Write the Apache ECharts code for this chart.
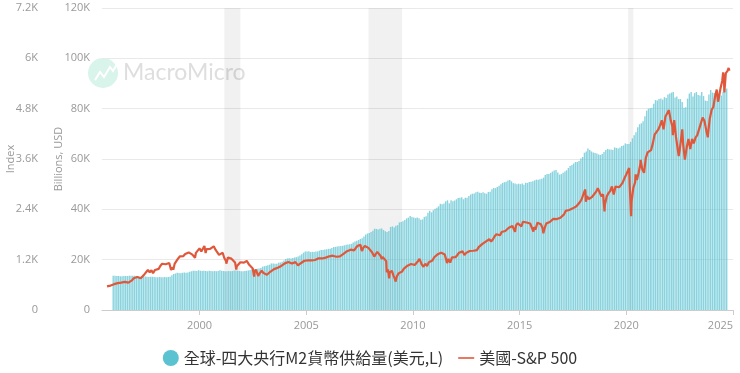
<!DOCTYPE html>
<html>
<head>
<meta charset="utf-8">
<script src="https://cdn.jsdelivr.net/npm/echarts@6/dist/echarts.min.js"></script>
<style>
html,body{margin:0;padding:0;background:#fff;}
#c{width:740px;height:373px;}
</style>
</head>
<body>
<div id="c"></div>
<script>
// ---- data ----
const seriesNames = ['全球-四大央行M2貨幣供給量(美元,L)', '美國-S&P 500'];
const yearTicks = [2000, 2005, 2010, 2015, 2020, 2025];
const m2Start = [1995, 12];
// billions USD (thousands), monthly
const m2Values = [
 13.6,
 13.6,13.5,13.5,13.4,13.4,13.5,13.5,13.5,13.6,13.6,13.6,13.6,
 13.5,13.3,13.2,13.2,13.3,13.3,13.2,13.1,13.2,13.2,13.1,13.0,
 13.0,13.1,13.0,13.0,13.1,13.0,13.1,13.2,13.8,14.3,14.5,14.8,
 14.7,14.6,14.8,14.9,14.8,14.9,15.2,15.4,15.6,15.6,15.5,15.8,
 15.6,15.5,15.6,15.5,15.4,15.6,15.5,15.4,15.5,15.4,15.5,15.8,
 15.6,15.5,15.4,15.4,15.5,15.4,15.5,15.7,15.7,15.6,15.5,15.4,
 15.4,15.5,15.6,15.7,15.9,16.2,16.2,16.3,16.4,16.5,16.7,17.2,
 17.4,17.6,17.8,18.0,18.5,18.5,18.4,18.4,18.8,18.9,19.2,19.7,
 20.3,20.5,20.6,20.5,20.7,20.9,21.0,21.3,21.7,22.2,22.8,23.2,
 23.2,23.3,23.0,23.1,23.0,23.2,23.3,23.6,23.8,23.8,24.0,24.1,
 24.3,24.3,24.6,25.0,25.1,25.2,25.3,25.4,25.5,25.7,25.9,26.0,
 26.1,26.3,26.8,27.2,27.5,27.8,28.2,28.5,29.2,30.0,30.4,30.6,
 31.0,31.5,32.3,32.2,32.0,32.3,32.4,31.8,31.3,31.0,31.4,33.0,
 33.2,32.8,33.5,33.7,34.8,35.0,35.3,35.8,36.4,36.7,37.4,37.0,
 36.8,36.5,36.8,36.5,35.9,36.0,37.0,37.3,38.6,39.4,38.8,39.6,
 40.2,40.6,41.2,42.2,42.0,42.3,43.2,43.6,42.4,43.6,43.2,43.5,
 44.0,44.5,44.6,44.8,44.0,44.6,44.6,45.3,45.9,46.2,46.3,46.8,
 47.0,46.6,46.5,46.8,46.4,46.2,46.9,47.0,48.0,48.5,48.4,48.9,
 49.4,50.0,50.5,50.8,51.0,51.5,51.7,51.1,50.4,50.3,50.0,50.2,
 50.0,50.3,49.8,50.6,50.5,50.9,51.0,51.2,51.5,51.8,51.8,52.0,
 52.2,52.6,53.6,54.0,54.0,54.5,55.0,55.4,55.6,54.6,53.8,54.0,
 54.5,55.0,55.5,56.4,57.2,57.6,58.2,58.8,58.8,59.2,60.2,60.8,
 62.5,63.0,64.2,63.6,63.0,62.6,62.4,62.2,61.8,61.6,62.0,62.8,
 63.6,64.0,63.8,63.8,63.6,64.6,64.4,64.2,64.6,65.2,65.4,66.2,
 66.0,66.0,66.8,68.2,69.4,70.6,72.6,73.8,74.2,75.0,77.0,79.2,
 80.0,80.2,80.4,82.0,83.4,83.2,83.8,84.0,83.6,84.6,84.2,85.6,
 86.0,86.4,86.6,84.4,84.8,83.8,83.8,82.6,80.4,80.6,84.0,86.0,
 86.6,84.8,86.2,86.6,85.4,85.2,86.6,85.0,83.2,83.0,85.6,87.4,
 86.4,86.2,86.0,84.8,85.6,85.2,86.6,87.8,88.0
];
const spStart = [1995, 8];
// S&P 500 monthly closes
const spValues = [
 562,584,582,605,616,
 636,640,645,654,669,671,640,652,687,705,757,741,
 786,791,757,801,848,885,954,899,947,915,955,970,
 980,1049,1102,1112,1091,1134,1121,957,1017,1099,1164,1229,
 1280,1238,1286,1335,1302,1373,1329,1320,1283,1363,1389,1469,
 1394,1366,1499,1452,1421,1455,1431,1518,1437,1429,1315,1320,
 1366,1240,1160,1249,1256,1224,1211,1134,1041,1060,1139,1148,
 1130,1107,1147,1077,1067,990,912,916,815,886,936,880,
 856,841,848,917,964,975,990,1008,996,1051,1058,1112,
 1131,1145,1126,1107,1121,1141,1102,1104,1115,1130,1174,1212,
 1181,1204,1181,1157,1192,1191,1234,1220,1229,1207,1249,1248,
 1280,1281,1295,1311,1270,1270,1277,1304,1336,1378,1401,1418,
 1438,1407,1421,1482,1531,1503,1455,1474,1527,1549,1481,1468,
 1378,1331,1323,1386,1400,1280,1267,1283,1166,969,896,903,
 826,735,798,873,919,919,987,1021,1057,1036,1096,1115,
 1074,1104,1169,1187,1089,1031,1102,1049,1141,1183,1181,1258,
 1286,1327,1326,1364,1345,1321,1292,1219,1131,1253,1247,1258,
 1312,1366,1408,1398,1310,1362,1379,1407,1441,1412,1416,1426,
 1498,1515,1569,1598,1631,1606,1686,1633,1682,1757,1806,1848,
 1783,1859,1872,1884,1924,1960,1931,2003,1972,2018,2068,2059,
 1995,2105,2068,2086,2107,2063,2104,1972,1920,2079,2080,2044,
 1940,1932,2060,2065,2097,2099,2174,2171,2168,2126,2199,2239,
 2279,2364,2363,2384,2412,2423,2470,2472,2519,2575,2648,2674,
 2824,2714,2641,2648,2705,2718,2816,2902,2914,2712,2760,2507,
 2704,2784,2834,2946,2752,2942,2980,2926,2977,3038,3141,3231,
 3226,2954,2585,2912,3044,3100,3271,3500,3363,3270,3622,3756,
 3714,3811,3973,4181,4204,4298,4395,4523,4308,4605,4567,4766,
 4516,4374,4530,4132,4132,3785,4130,3955,3586,3872,4080,3840,
 4077,3970,4109,4169,4180,4450,4589,4508,4288,4194,4568,4770,
 4846,5096,5254,5036,5278,5460,5522,5648,5700,5705
];
// intra-month turning points visible on the line
const spExtremes = [
 ['1996-07-24',626],['1997-03-31',757],['1997-10-27',877],['1998-08-31',957],['1998-10-08',960],
 ['1999-10-15',1247],['2000-03-24',1527],['2000-04-14',1357],['2000-09-01',1520],['2001-04-04',1103],
 ['2001-09-21',966],['2002-03-19',1170],['2002-07-23',797],['2002-08-22',962],['2002-10-09',777],
 ['2003-03-11',800],['2004-08-12',1064],['2005-04-20',1138],['2006-06-13',1223],['2007-02-27',1399],
 ['2007-07-19',1553],['2007-08-15',1406],['2007-10-09',1565],['2008-03-10',1273],['2008-05-19',1427],
 ['2008-07-15',1215],['2008-10-10',899],['2008-11-20',752],['2009-01-06',935],['2009-03-09',676],
 ['2010-04-23',1217],['2010-07-02',1022],['2011-04-29',1364],['2011-08-08',1119],['2011-10-03',1099],
 ['2012-06-01',1278],['2014-10-15',1862],['2015-08-25',1867],['2016-02-11',1829],['2018-01-26',2873],
 ['2018-02-08',2581],['2018-09-20',2931],['2018-12-24',2351],['2020-02-19',3386],['2020-03-23',2237],
 ['2020-06-08',3232],['2020-09-02',3580],['2022-01-03',4796],['2022-03-08',4170],['2022-06-16',3667],
 ['2022-08-16',4305],['2022-10-12',3577],['2023-07-31',4589],['2023-10-27',4117],['2024-03-28',5254],
 ['2024-04-19',4967],['2024-07-16',5667],['2024-08-05',5186],['2024-10-18',5770]
];
const recessions = [['2001-03-01','2001-11-30'],['2007-12-01','2009-06-30'],['2020-02-01','2020-04-30']];

// ---- build: dates -> decimal years ----
function decYear(y, m, d){ // m 1-based
  const t = Date.UTC(y, m-1, d), t0 = Date.UTC(y,0,1), t1 = Date.UTC(y+1,0,1);
  return y + (t-t0)/(t1-t0);
}
function monthMid(start, i){ const n = start[1]-1+i; return decYear(start[0]+Math.floor(n/12), n%12+1, 15); }
function monthEnd(start, i){ const n = start[1]-1+i; const y=start[0]+Math.floor(n/12), m=n%12+1; const last = new Date(Date.UTC(y, m, 0)).getUTCDate(); return decYear(y, m, last); }
function parseDay(s){ const p=s.split('-').map(Number); return decYear(p[0],p[1],p[2]); }

const barData = m2Values.map((v,i)=>[monthMid(m2Start,i), v*1000]);
let lineData = spValues.map((v,i)=>[monthEnd(spStart,i), v]);
spExtremes.forEach(e=>lineData.push([parseDay(e[0]), e[1]]));
lineData.sort((a,b)=>a[0]-b[0]);

function kFmt(v){ if(v===0) return '0'; return (v/1000)+'K'; }

const chart = echarts.init(document.getElementById('c'), null, {renderer:'canvas'});
const axisLabelStyle = {color:'#999', fontSize:11, fontFamily:'Open Sans, sans-serif'};
chart.setOption({
  animation:false,
  backgroundColor:'#fff',
  grid:{left:102, right:7, top:8, bottom:63, outerBoundsMode:'none', containLabel:false},
  legend:{
    bottom:2, left:'center', itemGap:15, itemWidth:16, itemHeight:16,
    textStyle:{color:'#333', fontSize:16, fontFamily:'Noto Sans CJK TC, sans-serif'},
    data:[
      {name:seriesNames[0], icon:'circle', itemStyle:{color:'#5bc2d1', opacity:1}},
      {name:seriesNames[1], icon:'path://M0,0h20v2h-20z', itemStyle:{color:'#e0583b'}}
    ]
  },
  xAxis:{
    type:'value',
    min:parseDay('1995-06-06'),
    max:2025,
    axisLine:{show:true, lineStyle:{color:'#ccc'}},
    axisTick:{show:true, customValues:yearTicks, length:5, lineStyle:{color:'#ccc'}},
    axisLabel:Object.assign({customValues:yearTicks, margin:10, alignMaxLabel:'right', formatter:(v)=>String(Math.round(v))}, axisLabelStyle),
    splitLine:{show:false}
  },
  yAxis:[
    {
      type:'value', position:'left', min:0, max:120000, interval:20000,
      name:'Billions, USD', nameLocation:'middle', nameGap:38, nameRotate:90, nameMoveOverlap:false,
      nameTextStyle:{color:'#999', fontSize:11, fontFamily:'Open Sans, sans-serif'},
      axisLine:{show:false}, axisTick:{show:false},
      axisLabel:Object.assign({formatter:kFmt, margin:12}, axisLabelStyle),
      splitLine:{show:true, lineStyle:{color:'#e9e9e9'}}
    },
    {
      type:'value', position:'left', offset:52, min:0, max:7200, interval:1200,
      name:'Index', nameLocation:'middle', nameGap:34, nameRotate:90, nameMoveOverlap:false,
      nameTextStyle:{color:'#999', fontSize:11, fontFamily:'Open Sans, sans-serif'},
      axisLine:{show:false}, axisTick:{show:false},
      axisLabel:Object.assign({formatter:kFmt, margin:12}, axisLabelStyle),
      splitLine:{show:false}
    }
  ],
  graphic:[
    {type:'circle', left:88, top:58, z:0, shape:{r:15}, style:{fill:'#d9f4ea'}},
    {type:'polyline', z:1, shape:{points:[[95,80],[100,72],[104,77],[110,67],[113,71],[117,64]]}, style:{stroke:'#fff', lineWidth:2, fill:null}},
    {type:'text', left:123, top:61, z:0, style:{text:'MacroMicro', fill:'#dedede', fontSize:23, fontWeight:'normal', fontFamily:'Lato, sans-serif'}}
  ],
  series:[
    {
      name:'recession', type:'line', data:[], z:1, silent:true,
      markArea:{silent:true, itemStyle:{color:'rgba(0,0,0,0.055)', opacity:1},
        data:recessions.map(r=>[{xAxis:parseDay(r[0])},{xAxis:parseDay(r[1])}])}
    },
    {
      name:seriesNames[0], type:'bar', yAxisIndex:0, data:barData, z:2,
      barWidth:1.4,
      itemStyle:{color:'#5bc2d1', opacity:0.72}
    },
    {
      name:seriesNames[1], type:'line', yAxisIndex:1, data:lineData, z:3,
      showSymbol:false, symbol:'none',
      lineStyle:{color:'#e0583b', width:2.2}, itemStyle:{color:'#e0583b'}
    }
  ]
});
</script>
</body>
</html>
